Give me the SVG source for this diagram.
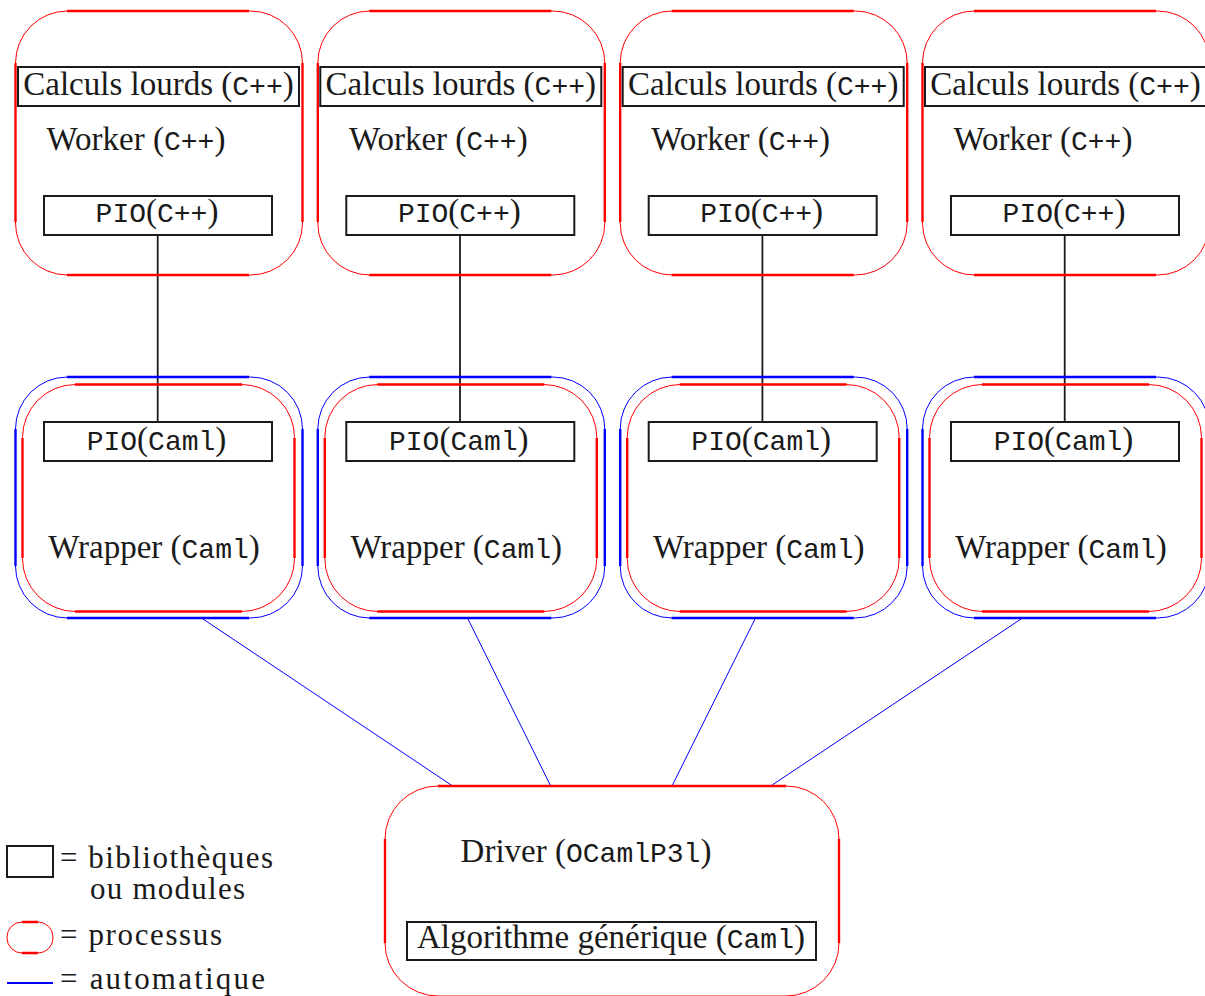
<svg xmlns="http://www.w3.org/2000/svg" width="1205" height="996" viewBox="0 0 1205 996">
<style>
.t{font-family:"Liberation Serif","Times New Roman",serif;font-size:33px;fill:#1a1a1a}
.lg{font-family:"Liberation Serif","Times New Roman",serif;font-size:31px;fill:#1a1a1a}
.m{font-family:"Liberation Mono","Courier New",monospace;font-size:28px}
.box{fill:none;stroke:#1a1a1a;stroke-width:2}
.rr{fill:none;stroke:#ff0000;stroke-width:1}
.rs{fill:none;stroke:#ff0000;stroke-width:2.4}
.br{fill:none;stroke:#0000ff;stroke-width:1}
.bs{fill:none;stroke:#0000ff;stroke-width:2.4}
.bl{fill:none;stroke:#0000ff;stroke-width:1}
.kl{fill:none;stroke:#1a1a1a;stroke-width:1.8}
</style>
<defs>
<g id="workerShape">
<rect class="rr" x="15.5" y="11" width="287" height="264" rx="52" ry="52"/>
<path class="rs" d="M67 11H249M67 275H249M15.5 63V222M302.5 63V222"/>
<rect class="box" x="18" y="67" width="281" height="39"/>
<text class="t" x="158.5" y="95" text-anchor="middle">Calculs lourds (<tspan class="m">C++</tspan>)</text>
<text class="t" x="136" y="150" text-anchor="middle">Worker (<tspan class="m">C++</tspan>)</text>
<rect class="box" x="44" y="196" width="228" height="39"/>
<text class="t" x="157" y="222" text-anchor="middle"><tspan class="m">PIO</tspan>(<tspan class="m">C++</tspan>)</text>
</g>
<g id="wrapperShape">
<rect class="br" x="15.5" y="377" width="287" height="241" rx="52" ry="52"/>
<path class="bs" d="M67 377H249M67 618H249M15.5 429V566M302.5 429V566"/>
<rect class="rr" x="22.5" y="384.5" width="272" height="227" rx="53" ry="53"/>
<path class="rs" d="M75 384.5H242M75 611.5H242M22.5 438V558M294.5 438V558"/>
<rect class="box" x="44" y="422" width="228" height="39"/>
<text class="t" x="156.5" y="450" text-anchor="middle"><tspan class="m">PIO</tspan>(<tspan class="m">Caml</tspan>)</text>
<text class="t" x="154" y="558" text-anchor="middle">Wrapper (<tspan class="m">Caml</tspan>)</text>
</g>
</defs>
<g id="connectors">
<path class="kl" d="M157.7 235V422"/>
<path class="kl" d="M460 235V422"/>
<path class="kl" d="M762.4 235V422"/>
<path class="kl" d="M1064.7 235V422"/>
<path class="bl" d="M203 619L452.7 786"/>
<path class="bl" d="M468 619L550.7 786"/>
<path class="bl" d="M755 619L672 786"/>
<path class="bl" d="M1021 619L770.7 786"/>
</g>
<g id="worker1"><use href="#workerShape"/></g>
<g id="worker2" transform="translate(302.3,0)"><use href="#workerShape"/></g>
<g id="worker3" transform="translate(604.7,0)"><use href="#workerShape"/></g>
<g id="worker4" transform="translate(907,0)"><use href="#workerShape"/></g>
<g id="wrapper1"><use href="#wrapperShape"/></g>
<g id="wrapper2" transform="translate(302.3,0)"><use href="#wrapperShape"/></g>
<g id="wrapper3" transform="translate(604.7,0)"><use href="#wrapperShape"/></g>
<g id="wrapper4" transform="translate(907,0)"><use href="#wrapperShape"/></g>
<g id="driver">
<rect class="rr" x="385" y="786" width="454" height="210" rx="53" ry="53"/>
<path class="rs" d="M438 786H786M385 839V943M839 839V943"/>
<text class="t" x="586" y="862" text-anchor="middle">Driver (<tspan class="m">OCamlP3l</tspan>)</text>
<rect class="box" x="407" y="922" width="409" height="38"/>
<text class="t" x="611" y="948" text-anchor="middle">Algorithme générique (<tspan class="m">Caml</tspan>)</text>
</g>
<g id="legend">
<rect class="box" x="7" y="846" width="46" height="31"/>
<text class="lg" x="60" y="868" textLength="213" lengthAdjust="spacing">= bibliothèques</text>
<text class="lg" x="90" y="899" textLength="155" lengthAdjust="spacing">ou modules</text>
<rect class="rr" x="7" y="922" width="46" height="31" rx="15" ry="15"/>
<path class="rs" d="M22 922H38M22 953H38"/>
<text class="lg" x="60" y="945" textLength="162" lengthAdjust="spacing">= processus</text>
<path class="bs" d="M7 983H53" style="stroke-width:2"/>
<text class="lg" x="60" y="989" textLength="205" lengthAdjust="spacing">= automatique</text>
</g>
</svg>
